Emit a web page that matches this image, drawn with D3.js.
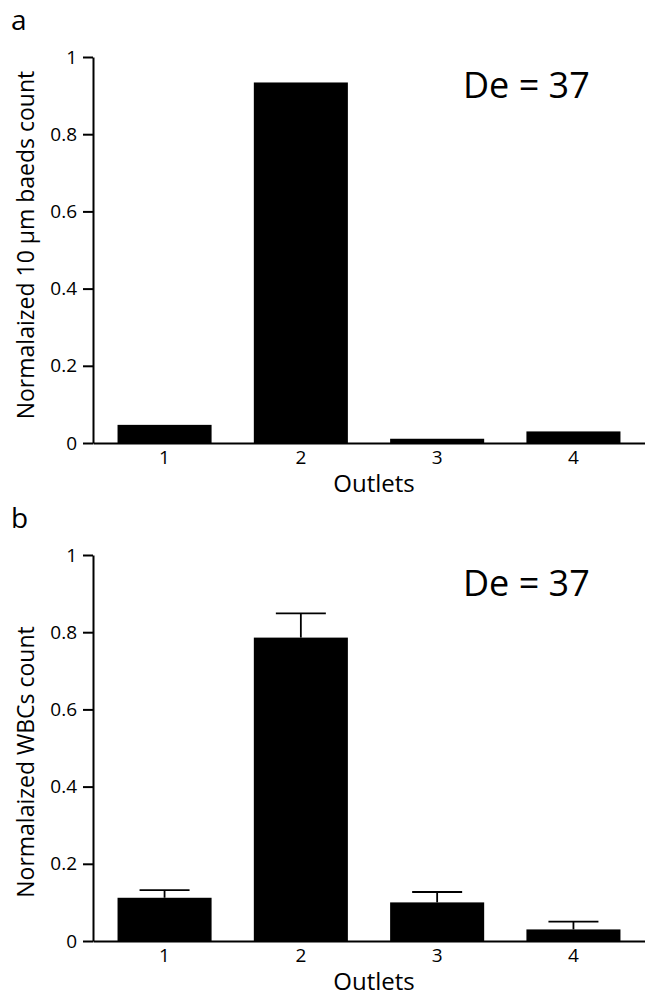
<!DOCTYPE html>
<html>
<head>
<meta charset="utf-8">
<script src="https://cdn.jsdelivr.net/npm/d3@7"></script>
<style>
  body { margin: 0; background: #fff; }
  svg text { font-family: "Open Sans", "Noto Sans", sans-serif; fill: #000; }
</style>
</head>
<body>
<svg id="chart" width="645" height="997"></svg>
<script>

// data
var outlets = ["1", "2", "3", "4"];
var beadsCount = [0.047, 0.934, 0.011, 0.030];
var wbcCount = [0.112, 0.786, 0.100, 0.030];
var wbcError = [0.020, 0.063, 0.027, 0.020];
var yTicks = [0, 0.2, 0.4, 0.6, 0.8, 1];

var svg = d3.select("#chart");

function draw_panel( letter, values, errors, yTitle, top, titleY ){

    var bottom = top + 386;

    var x = d3.scaleBand()
        .domain(outlets)
        .range([93, 645])
        .paddingInner(0.31)
        .paddingOuter(0.18);

    var y = d3.scaleLinear()
        .domain([0, 1])
        .range([bottom, top]);

    var g = svg.append("g");

    // bars
    g.append("g").selectAll("rect")
        .data(values)
        .enter().append("rect")
        .attr("x", function(d, i){ return x(outlets[i]); })
        .attr("y", function(d){ return y(d); })
        .attr("width", x.bandwidth())
        .attr("height", function(d){ return bottom - y(d); })
        .attr("fill", "#000");

    // error bars (only the upper half shows above the bar)
    if( errors ){
        var eg = g.append("g")
            .attr("stroke", "#000")
            .attr("stroke-width", 1.8);
        values.forEach( function(v, i){
            var cx = x(outlets[i]) + x.bandwidth()/2;
            eg.append("line")
                .attr("x1", cx).attr("x2", cx)
                .attr("y1", y(v)).attr("y2", y(v + errors[i]));
            eg.append("line")
                .attr("x1", cx - 25).attr("x2", cx + 25)
                .attr("y1", y(v + errors[i])).attr("y2", y(v + errors[i]));
        });
    }

    // y axis
    var yAxis = g.append("g")
        .attr("transform", "translate(93,0)")
        .call( d3.axisLeft(y)
            .tickValues(yTicks)
            .tickFormat(d3.format("~g"))
            .tickSize(10)
            .tickSizeOuter(0)
            .tickPadding(6) );
    yAxis.selectAll("path, line").attr("stroke", "#000").attr("stroke-width", 2);
    yAxis.selectAll("text")
        .style("font-family", "'Open Sans', sans-serif")
        .style("font-size", "19px")
        .attr("fill", "#000");

    // x axis: baseline only, no ticks
    var xAxis = g.append("g")
        .attr("transform", "translate(0," + bottom + ")")
        .call( d3.axisBottom(x)
            .tickSize(0)
            .tickSizeOuter(0)
            .tickPadding(8) );
    xAxis.selectAll("path").attr("stroke", "#000").attr("stroke-width", 2);
    xAxis.selectAll("text")
        .style("font-family", "'Open Sans', sans-serif")
        .style("font-size", "19px")
        .attr("fill", "#000");

    g.append("text")
        .attr("x", 374)
        .attr("y", bottom + 49)
        .attr("text-anchor", "middle")
        .style("font-size", "24px")
        .text("Outlets");

    g.append("text")
        .attr("transform", "translate(34," + titleY + ") rotate(-90)")
        .attr("text-anchor", "middle")
        .style("font-size", "23px")
        .text(yTitle);

    g.append("text")
        .attr("x", 463)
        .attr("y", top + 41)
        .style("font-size", "36px")
        .text("De = 37");

    g.append("text")
        .attr("x", 11)
        .attr("y", top - 27)
        .style("font-size", "28px")
        .text(letter);
}

draw_panel( "a", beadsCount, null, "Normalaized 10 \u03bcm baeds count", 57, 245 );
draw_panel( "b", wbcCount, wbcError, "Normalaized WBCs count", 555, 762 );

</script>
</body>
</html>
